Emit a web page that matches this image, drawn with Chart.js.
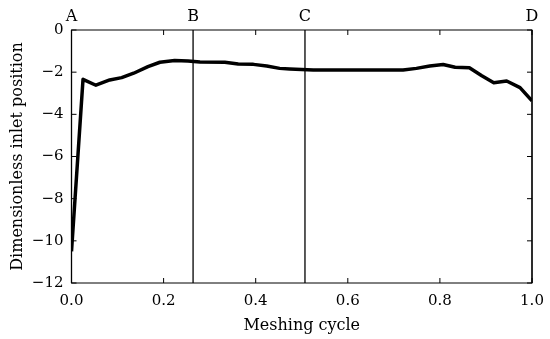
<!DOCTYPE html>
<html>
<head>
<meta charset="utf-8">
<script src="https://cdn.jsdelivr.net/npm/chart.js@4/dist/chart.umd.min.js"></script>
<style>
  html, body { margin: 0; padding: 0; background: #fff; }
  #wrap { width: 550px; height: 339px; }
</style>
</head>
<body>
<div id="wrap"><canvas id="chart"></canvas></div>
<script>
// data
const cycle = [0, 0.025, 0.053, 0.083, 0.109, 0.135, 0.166, 0.192, 0.224, 0.253, 0.279, 0.333, 0.362, 0.395, 0.424, 0.452, 0.474, 0.525, 0.720, 0.749, 0.778, 0.807, 0.833, 0.864, 0.891, 0.917, 0.945, 0.974, 1.0];
const inletPos = [-10.5, -2.34, -2.62, -2.37, -2.26, -2.05, -1.74, -1.53, -1.45, -1.47, -1.52, -1.53, -1.61, -1.63, -1.71, -1.82, -1.85, -1.90, -1.90, -1.82, -1.71, -1.64, -1.77, -1.79, -2.17, -2.50, -2.42, -2.73, -3.36];
const markerPos = [0, 0.264, 0.507, 1.0];
const markerLabels = ['A', 'B', 'C', 'D'];
const xTicks = [0, 0.2, 0.4, 0.6, 0.8, 1.0];
const yTicks = [0, -2, -4, -6, -8, -10, -12];

const FONT = '"DejaVu Serif", "Liberation Serif", serif';

// inward ticks on all four sides + phase markers
const framePlugin = {
  id: 'frame',
  afterDraw(chart) {
    const { ctx, chartArea: a, scales: { x, y } } = chart;
    ctx.save();
    ctx.strokeStyle = '#000';
    ctx.lineWidth = 1;
    ctx.beginPath();
    xTicks.forEach(v => {
      const px = x.getPixelForValue(v);
      ctx.moveTo(px, a.bottom); ctx.lineTo(px, a.bottom - 5);
      ctx.moveTo(px, a.top); ctx.lineTo(px, a.top + 5);
    });
    yTicks.forEach(v => {
      const py = y.getPixelForValue(v);
      ctx.moveTo(a.left, py); ctx.lineTo(a.left + 5, py);
      ctx.moveTo(a.right, py); ctx.lineTo(a.right - 5, py);
    });
    ctx.stroke();
    ctx.strokeRect(a.left, a.top, a.right - a.left, a.bottom - a.top);

    ctx.lineWidth = 1.3;
    ctx.fillStyle = '#000';
    ctx.font = '16px ' + FONT;
    ctx.textAlign = 'center';
    ctx.textBaseline = 'bottom';
    markerPos.forEach((v, i) => {
      const px = x.getPixelForValue(v);
      ctx.beginPath();
      ctx.moveTo(px, a.top); ctx.lineTo(px, a.bottom);
      ctx.stroke();
      ctx.fillText(markerLabels[i], px, a.top - 5);
    });
    ctx.restore();
  }
};

new Chart(document.getElementById('chart'), {
  type: 'scatter',
  data: {
    datasets: [{
      data: cycle.map((c, i) => ({ x: c, y: inletPos[i] })),
      showLine: true,
      borderColor: '#000',
      borderWidth: 3.5,
      pointRadius: 0,
      tension: 0,
      borderJoinStyle: 'round'
    }]
  },
  options: {
    responsive: true,
    maintainAspectRatio: false,
    animation: false,
    layout: { padding: { top: 30, right: 18, left: 4, bottom: 0 } },
    plugins: { legend: { display: false }, tooltip: { enabled: false } },
    scales: {
      x: {
        type: 'linear', min: 0, max: 1,
        afterBuildTicks: s => { s.ticks = xTicks.map(v => ({ value: v })); },
        afterFit: s => { s.height = 56; s.paddingLeft = 0; s.paddingRight = 0; },
        grid: { display: false, drawTicks: false },
        border: { display: false },
        ticks: {
          color: '#000', padding: 9,
          font: { family: FONT, size: 15 },
          callback: v => v.toFixed(1)
        },
        title: {
          display: true, text: 'Meshing cycle', color: '#000',
          font: { family: FONT, size: 16 }, padding: { top: 0 }
        }
      },
      y: {
        min: -12, max: 0,
        afterBuildTicks: s => { s.ticks = yTicks.map(v => ({ value: v })); },
        afterFit: s => { s.width = 67.5; s.paddingTop = 0; s.paddingBottom = 0; },
        grid: { display: false, drawTicks: false },
        border: { display: false },
        ticks: {
          color: '#000', padding: 8,
          font: { family: FONT, size: 15 },
          callback: v => (v < 0 ? '\u2212' + Math.abs(v) : String(v))
        },
        title: {
          display: true, text: 'Dimensionless inlet position', color: '#000',
          font: { family: FONT, size: 16 }, padding: { bottom: 1 }
        }
      }
    }
  },
  plugins: [framePlugin]
});
</script>
</body>
</html>
